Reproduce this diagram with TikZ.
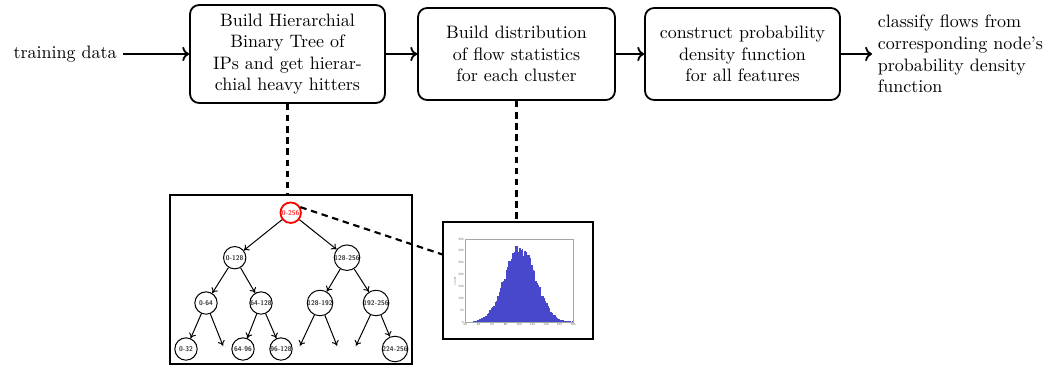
\documentclass[tikz,border=0pt]{standalone}
\usepackage{fontspec}
\usetikzlibrary{arrows.meta,calc}
\definecolor{histblue}{RGB}{72,72,204}
\begin{document}
\begin{tikzpicture}[x=0.5556pt,y=-0.5556pt,
  stagebox/.style={draw,line width=1pt,rounded corners=5pt,align=center,inner sep=0pt},
  flow/.style={->,line width=1pt},
  link/.style={line width=1.2pt,dash pattern=on 3.6pt off 2.6pt},
  panel/.style={draw,line width=1pt,inner sep=0pt},
  tnode/.style={circle,draw,line width=0.55pt,minimum size=12.4pt,inner sep=0pt,
    font=\fontsize{3.8}{3.8}\selectfont\sffamily\bfseries,text=black!80},
  rootnode/.style={tnode,draw=red,line width=1pt,minimum size=11.4pt,text=red!80},
  tedge/.style={-{To[length=2.8pt,width=4pt]},line width=0.55pt},
  more/.style={inner sep=0pt,font=\fontsize{3.4}{3.4}\selectfont,text=black!50},
  ticklab/.style={inner sep=0.6pt,font=\fontsize{1.8}{1.8}\selectfont\sffamily,text=black!60}]
\useasboundingbox (0,0) rectangle (1061,366);

% pipeline stages
\node[anchor=east,inner xsep=3.3pt,inner ysep=0pt] (src) at (123,54) {training data};
\node[stagebox,minimum width=108.3pt,minimum height=54.4pt] (s1) at (287.5,54)
  {Build Hierarchial\\Binary Tree of\\IPs and get hierar-\\chial heavy hitters};
\node[stagebox,minimum width=109.4pt,minimum height=51.1pt] (s2) at (516.5,54)
  {Build distribution\\of flow statistics\\for each cluster};
\node[stagebox,minimum width=108.3pt,minimum height=51.1pt] (s3) at (742.5,54)
  {construct probability\\density function\\for all features};
\node[anchor=west,align=left,inner xsep=3pt,inner ysep=0pt] (out) at (872,54)
  {classify flows from\\corresponding node's\\probability density\\function};

\draw[flow] (src) -- (s1);
\draw[flow] (s1) -- (s2);
\draw[flow] (s2) -- (s3);
\draw[flow] (s3) -- (out);

% panels
\node[panel,minimum width=134.4pt,minimum height=93.9pt] (treebox) at (291,279.5) {};
\node[panel,minimum width=83.3pt,minimum height=65pt] (hist) at (518,280.5) {};
\coordinate (histin) at ($(hist.north west)!0.28!(hist.south west)$);

% binary tree of address ranges
\node[rootnode] (r) at (290.7,212.7) {0-256};
\node[tnode] (a) at (234.7,257.7) {0-128};
\node[tnode] (b) at (347,257.7) {128-256};
\node[tnode] (aa) at (206,303) {0-64};
\node[tnode] (ab) at (261,303) {64-128};
\node[tnode] (ba) at (320,303) {128-192};
\node[tnode] (bb) at (376,303) {192-256};
\node[tnode] (aaa) at (186,349) {0-32};
\node[more] (aab) at (223,347) {...};
\node[tnode] (aba) at (243,349) {64-96};
\node[tnode] (abb) at (281,349) {96-128};
\node[more] (baa) at (300,347) {...};
\node[more] (bab) at (337,347) {...};
\node[more] (bba) at (356,347) {...};
\node[tnode] (bbb) at (395,349) {224-256};

\draw[tedge] (r) -- (a);
\draw[tedge] (r) -- (b);
\draw[tedge] (a) -- (aa);
\draw[tedge] (a) -- (ab);
\draw[tedge] (b) -- (ba);
\draw[tedge] (b) -- (bb);
\draw[tedge] (aa) -- (aaa);
\draw[tedge] (aa) -- (aab.north);
\draw[tedge] (ab) -- (aba);
\draw[tedge] (ab) -- (abb);
\draw[tedge] (ba) -- (baa.north);
\draw[tedge] (ba) -- (bab.north);
\draw[tedge] (bb) -- (bba.north);
\draw[tedge] (bb) -- (bbb);

% histogram of a flow statistic
\pgfmathsetseed{11}
\foreach \v in {26,28,...,178}{
  \pgfmathsetmacro\h{max(0,308*exp(-((\v-101)^2)/1058)*(1+0.1*rand)+2*rand)}
  \fill[histblue] ({465+0.675*(\v-20)},322) rectangle ({465+0.675*(\v-17.7)},{322-0.2371*\h});
}
\draw[black!35,line width=0.3pt] (465,239) rectangle (573,322);
\foreach \t [count=\i from 0] in {20,40,...,180}
  \node[ticklab,anchor=north] at ({465+13.5*\i},322) {\t};
\foreach \c [count=\j from 0] in {0,50,...,350}
  \node[ticklab,anchor=east] at (465,{322-11.857*\j}) {\c};
\node[ticklab,rotate=90] at (455,281) {count};

% links from stages to their illustrations
\draw[link] (s1.south) -- (s1.south |- treebox.north);
\draw[link] (s2.south) -- (s2.south |- hist.north);
\draw[link] (r.30) -- (histin);
\end{tikzpicture}
\end{document}
